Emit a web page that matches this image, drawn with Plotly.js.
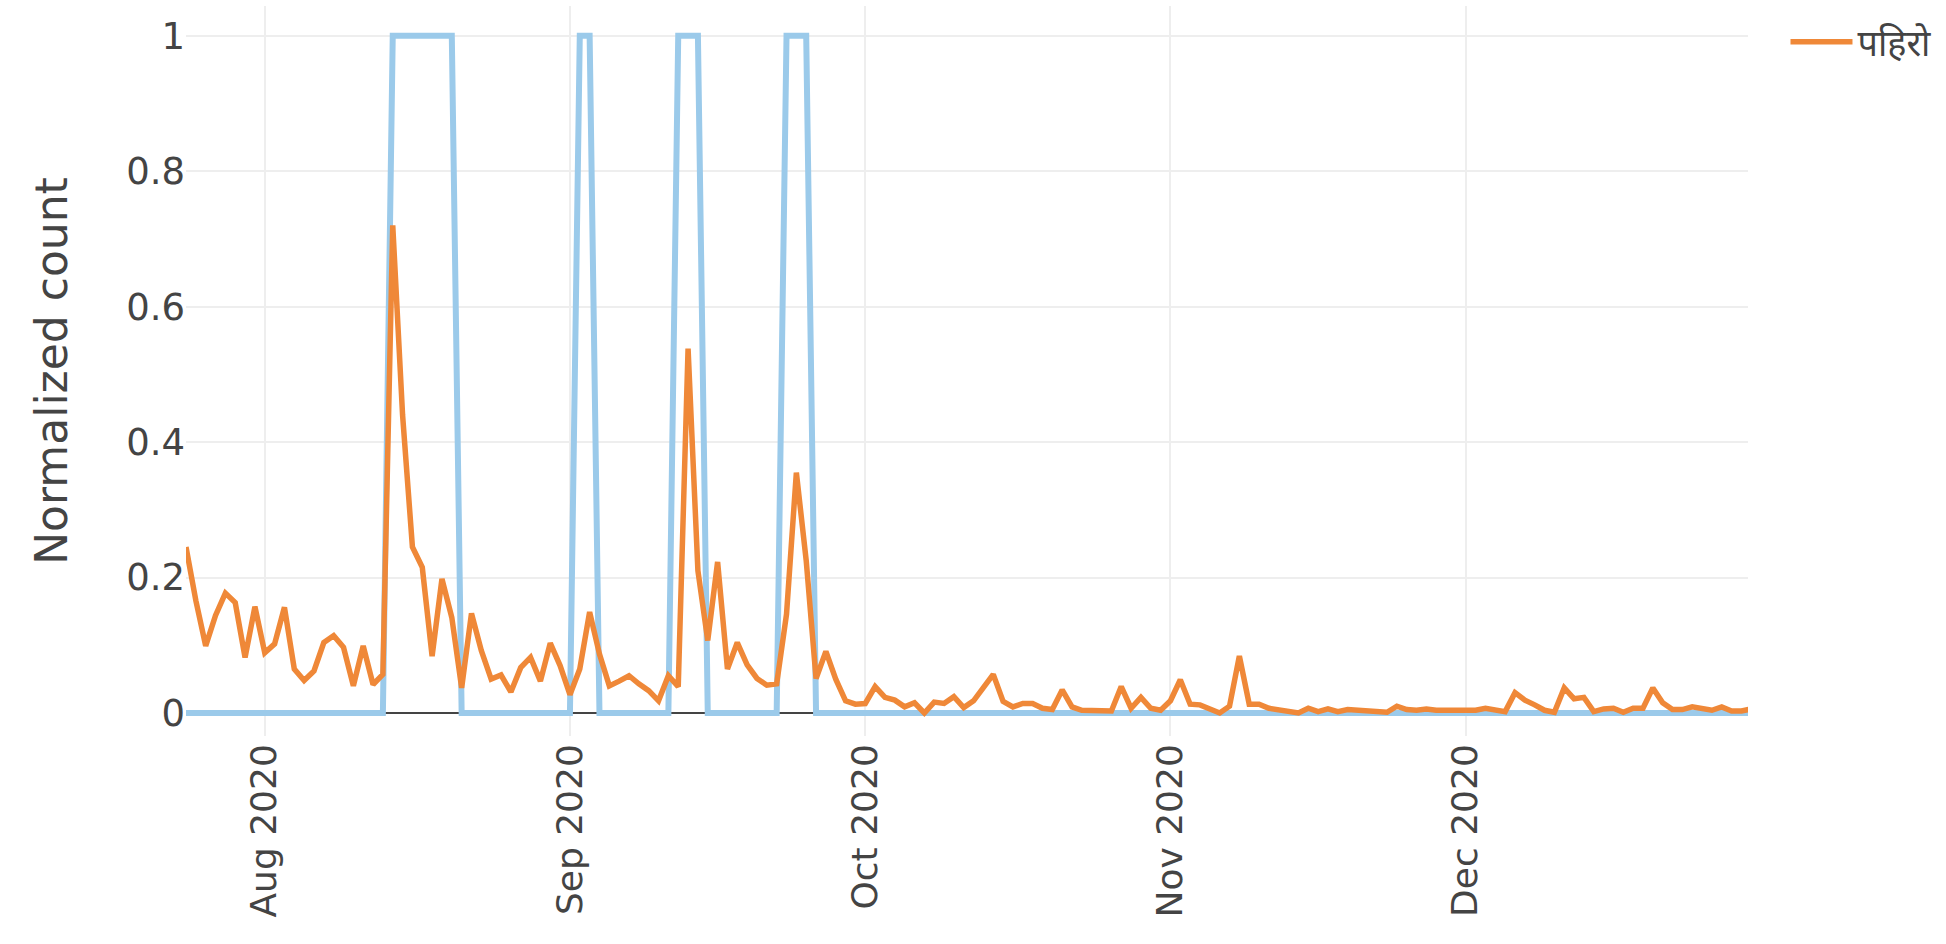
<!DOCTYPE html>
<html>
<head>
<meta charset="utf-8">
<script src="https://cdn.plot.ly/plotly-3.0.1.min.js"></script>
<style>
  html, body { margin: 0; padding: 0; background: #fff; }
  #chart { width: 1946px; height: 944px; }
</style>
</head>
<body>
<div id="chart"></div>
<script>
// First day of the daily series
const startDate = '2020-07-24';

// Daily normalized counts of "पहिरो" (landslide), Jul 24 – Dec 30, 2020
const landslideCounts = [
  0.245, 0.166, 0.099, 0.144, 0.177, 0.163, 0.082, 0.157, 0.089, 0.102,
  0.156, 0.065, 0.048, 0.062, 0.104, 0.114, 0.097, 0.040, 0.099, 0.042,
  0.057, 0.720, 0.440, 0.245, 0.215, 0.084, 0.198, 0.141, 0.037, 0.147,
  0.092, 0.050, 0.056, 0.031, 0.067, 0.082, 0.047, 0.103, 0.070, 0.027,
  0.065, 0.149, 0.087, 0.040, 0.047, 0.055, 0.043, 0.033, 0.018, 0.055,
  0.039, 0.538, 0.210, 0.107, 0.223, 0.065, 0.104, 0.071, 0.051, 0.041,
  0.043, 0.146, 0.355, 0.225, 0.051, 0.091, 0.050, 0.018, 0.013, 0.014,
  0.039, 0.023, 0.019, 0.009, 0.015, 0.000, 0.016, 0.014, 0.024, 0.008,
  0.018, 0.039, 0.057, 0.017, 0.009, 0.014, 0.014, 0.007, 0.005, 0.034,
  0.009, 0.004, 0.004, 0.003, 0.003, 0.039, 0.007, 0.023, 0.007, 0.004,
  0.018, 0.049, 0.013, 0.012, 0.007, 0.000, 0.010, 0.084, 0.013, 0.013,
  0.007, 0.005, 0.003, 0.000, 0.007, 0.002, 0.006, 0.002, 0.005, 0.004,
  0.004, 0.003, 0.001, 0.010, 0.005, 0.004, 0.006, 0.004, 0.004, 0.004,
  0.004, 0.004, 0.007, 0.005, 0.002, 0.030, 0.019, 0.012, 0.004, 0.001,
  0.037, 0.021, 0.023, 0.002, 0.006, 0.007, 0.001, 0.007, 0.007, 0.037,
  0.015, 0.005, 0.005, 0.009, 0.007, 0.004, 0.009, 0.003, 0.003, 0.006
];

// Daily event indicator (1 = event period)
const eventFlag = [
  0, 0, 0, 0, 0, 0, 0, 0, 0, 0,
  0, 0, 0, 0, 0, 0, 0, 0, 0, 0,
  0, 1, 1, 1, 1, 1, 1, 1, 0, 0,
  0, 0, 0, 0, 0, 0, 0, 0, 0, 0,
  1, 1, 0, 0, 0, 0, 0, 0, 0, 0,
  1, 1, 1, 0, 0, 0, 0, 0, 0, 0,
  0, 1, 1, 1, 0, 0, 0, 0, 0, 0,
  0, 0, 0, 0, 0, 0, 0, 0, 0, 0,
  0, 0, 0, 0, 0, 0, 0, 0, 0, 0,
  0, 0, 0, 0, 0, 0, 0, 0, 0, 0,
  0, 0, 0, 0, 0, 0, 0, 0, 0, 0,
  0, 0, 0, 0, 0, 0, 0, 0, 0, 0,
  0, 0, 0, 0, 0, 0, 0, 0, 0, 0,
  0, 0, 0, 0, 0, 0, 0, 0, 0, 0,
  0, 0, 0, 0, 0, 0, 0, 0, 0, 0,
  0, 0, 0, 0, 0, 0, 0, 0, 0, 0
];

const seriesName = 'पहिरो';
const yTitle = 'Normalized count';
const yTicks = [0, 0.2, 0.4, 0.6, 0.8, 1];
const yTickText = ['0', '0.2', '0.4', '0.6', '0.8', '1'];

// consecutive daily dates
const dates = [];
{
  const d0 = new Date(startDate + 'T00:00:00Z');
  for (let i = 0; i < landslideCounts.length; i++) {
    const d = new Date(d0.getTime() + i * 86400000);
    dates.push(d.toISOString().slice(0, 10));
  }
}

const FONT = 'DejaVu Sans, Verdana, Noto Sans, sans-serif';

const traces = [
  {
    x: dates, y: eventFlag, type: 'scatter', mode: 'lines',
    line: { color: '#9BCAEA', width: 6 },
    showlegend: false, hoverinfo: 'skip'
  },
  {
    x: dates, y: landslideCounts, type: 'scatter', mode: 'lines',
    name: seriesName,
    line: { color: '#EF8838', width: 5.5 }
  }
];

const layout = {
  width: 1946, height: 944,
  margin: { l: 186, r: 198, t: 6, b: 208, pad: 0 },
  paper_bgcolor: '#fff', plot_bgcolor: '#fff',
  font: { family: FONT, size: 36, color: '#444' },
  xaxis: {
    type: 'date',
    range: ['2020-07-24', '2020-12-29 16:00'],
    tick0: '2020-08-01', dtick: 'M1', tickformat: '%b %Y',
    tickangle: -90,
    showgrid: true, gridcolor: '#eeeeee', gridwidth: 2,
    zeroline: false, showline: false, ticks: '',
    tickfont: { family: FONT, size: 36, color: '#444' }
  },
  yaxis: {
    range: [-0.034, 1.044],
    tickvals: yTicks, ticktext: yTickText,
    showgrid: true, gridcolor: '#eeeeee', gridwidth: 2,
    zeroline: true, zerolinecolor: '#444', zerolinewidth: 2,
    showline: false, ticks: '',
    tickfont: { family: FONT, size: 37, color: '#444' },
    title: { text: yTitle, font: { family: FONT, size: 44, color: '#444' }, standoff: 44 }
  },
  legend: {
    x: 1.024, y: 0.992, xanchor: 'left', yanchor: 'top',
    itemwidth: 62,
    font: { family: FONT, size: 36, color: '#444' },
    bgcolor: 'rgba(0,0,0,0)'
  },
  showlegend: true
};

Plotly.newPlot('chart', traces, layout, { displayModeBar: false, staticPlot: true });
</script>
</body>
</html>
